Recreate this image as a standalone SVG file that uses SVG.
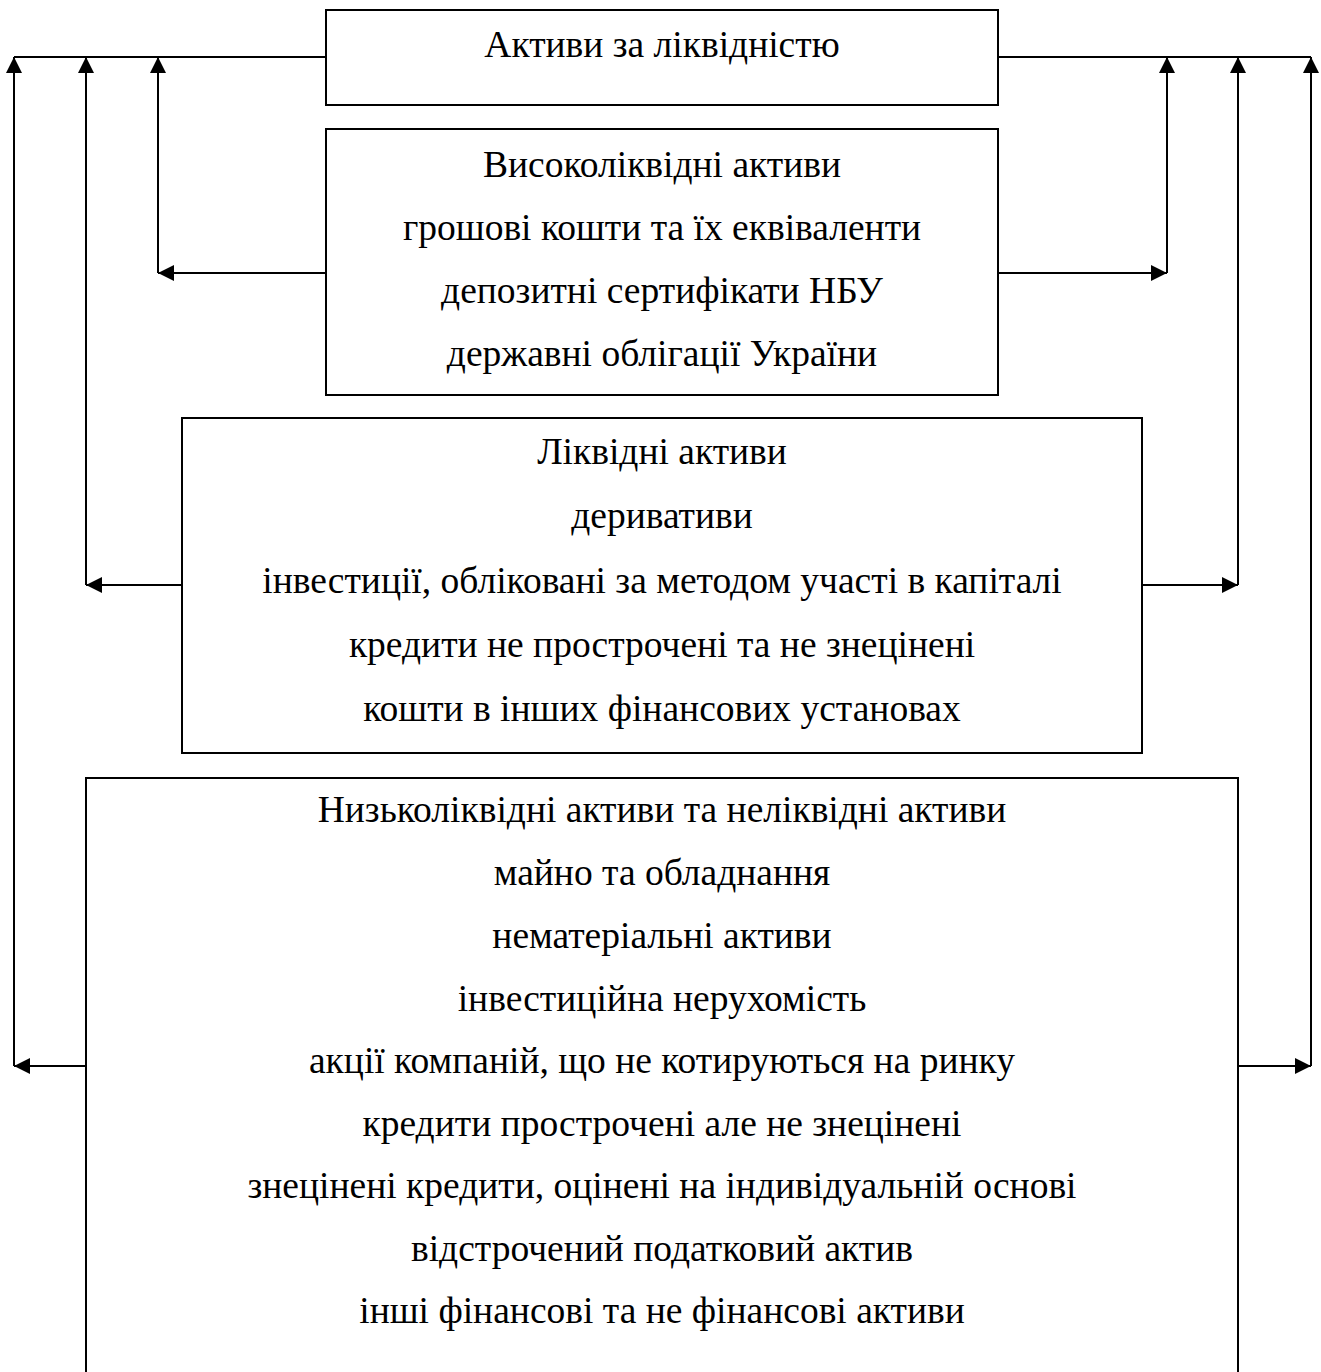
<svg xmlns="http://www.w3.org/2000/svg" width="1321" height="1372" viewBox="0 0 1321 1372">
<style>
.box{fill:#fff;stroke:#000;stroke-width:2}
.ln{fill:none;stroke:#000;stroke-width:2}
.t{font-family:"Liberation Serif","Times New Roman",serif;font-size:37.5px;fill:#000;text-anchor:middle}
</style>
<defs>
<marker id="ah" markerUnits="userSpaceOnUse" markerWidth="18" markerHeight="18" refX="16" refY="8" orient="auto">
<path d="M0,0 L16,8 L0,16 Z" fill="#000"/>
</marker>
</defs>
<rect width="1321" height="1372" fill="#fff"/>
<g id="connectors">
<path class="ln" d="M326,57 H14"/>
<path class="ln" d="M998,57 H1311"/>
<path class="ln" d="M14,1066 V57" marker-end="url(#ah)"/>
<path class="ln" d="M86,585 V57" marker-end="url(#ah)"/>
<path class="ln" d="M158,273 V57" marker-end="url(#ah)"/>
<path class="ln" d="M1167,273 V57" marker-end="url(#ah)"/>
<path class="ln" d="M1238,585 V57" marker-end="url(#ah)"/>
<path class="ln" d="M1311,1066 V57" marker-end="url(#ah)"/>
<path class="ln" d="M326,273 H158" marker-end="url(#ah)"/>
<path class="ln" d="M998,273 H1167" marker-end="url(#ah)"/>
<path class="ln" d="M182,585 H86" marker-end="url(#ah)"/>
<path class="ln" d="M1142,585 H1238" marker-end="url(#ah)"/>
<path class="ln" d="M86,1066 H14" marker-end="url(#ah)"/>
<path class="ln" d="M1238,1066 H1311" marker-end="url(#ah)"/>
</g>
<g id="node-top">
<rect class="box" x="326" y="10" width="672" height="95"/>
<text class="t" x="662" y="57">Активи за ліквідністю</text>
</g>
<g id="node-high">
<rect class="box" x="326" y="129" width="672" height="266"/>
<text class="t" x="662" y="177">Високоліквідні активи</text>
<text class="t" x="662" y="240">грошові кошти та їх еквіваленти</text>
<text class="t" x="662" y="303">депозитні сертифікати НБУ</text>
<text class="t" x="662" y="366">державні облігації України</text>
</g>
<g id="node-liquid">
<rect class="box" x="182" y="418" width="960" height="335"/>
<text class="t" x="662" y="464">Ліквідні активи</text>
<text class="t" x="662" y="528">деривативи</text>
<text class="t" x="662" y="593">інвестиції, обліковані за методом участі в капіталі</text>
<text class="t" x="662" y="657">кредити не прострочені та не знецінені</text>
<text class="t" x="662" y="721">кошти в інших фінансових установах</text>
</g>
<g id="node-low">
<rect class="box" x="86" y="778" width="1152" height="640"/>
<text class="t" x="662" y="822">Низьколіквідні активи та неліквідні активи</text>
<text class="t" x="662" y="885">майно та обладнання</text>
<text class="t" x="662" y="948">нематеріальні активи</text>
<text class="t" x="662" y="1011">інвестиційна нерухомість</text>
<text class="t" x="662" y="1073">акції компаній, що не котируються на ринку</text>
<text class="t" x="662" y="1136">кредити прострочені але не знецінені</text>
<text class="t" x="662" y="1198">знецінені кредити, оцінені на індивідуальній основі</text>
<text class="t" x="662" y="1261">відстрочений податковий актив</text>
<text class="t" x="662" y="1323">інші фінансові та не фінансові активи</text>
</g>
</svg>
